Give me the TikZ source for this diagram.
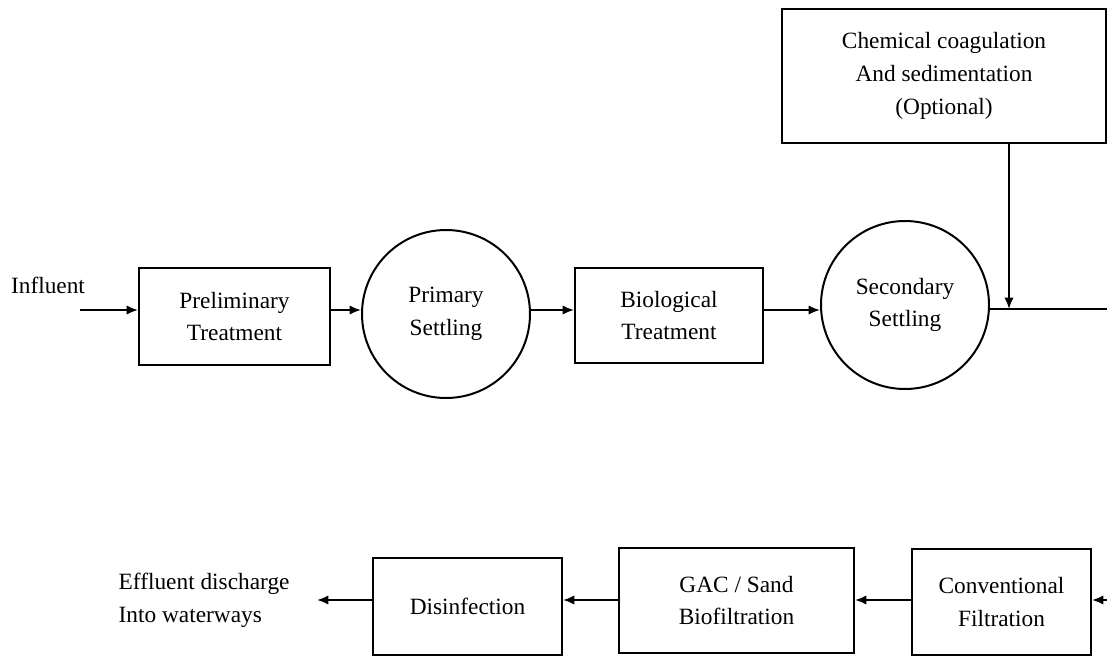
\documentclass[tikz,border=0pt]{standalone}
\usepackage{fontspec}
\setmainfont{Liberation Serif}
\usetikzlibrary{arrows.meta,calc}
\begin{document}
\begin{tikzpicture}[x=0.75pt,y=-0.75pt,
  txt/.style={font=\fontsize{17.5}{24.5}\selectfont, align=center, text=black},
  procbox/.style={txt, draw, line width=1.5pt, inner sep=0pt},
  settle/.style={txt, draw, circle, line width=1.5pt, inner sep=0pt, minimum size=126pt},
  arr/.style={line width=1.4pt, -{Latex[length=8.5pt,width=7pt]}},
  plain/.style={line width=1.4pt}]
\useasboundingbox (0,0) rectangle (1107,657);

% top row
\node[txt] (influent) at (48,285) {Influent};
\node[procbox, minimum width=143.25pt, minimum height=72.75pt] (prelim) at (234.5,316.5) {Preliminary\\Treatment};
\node[settle] (primary) at (446,314) {Primary\\Settling};
\node[procbox, minimum width=141pt, minimum height=71.25pt] (bio) at (669,315.5) {Biological\\Treatment};
\node[settle] (secondary) at (905,305) {Secondary\\Settling};
\node[procbox, minimum width=243pt, minimum height=100.5pt] (chem) at (944,76) {Chemical coagulation\\And sedimentation\\(Optional)};

\coordinate (lineA) at (0,310);
\coordinate (inStart) at (80,310);
\coordinate (jn) at (1009,309);
\coordinate (edgeR) at (1107,309);

\draw[arr] (inStart) -- (prelim.west |- lineA);
\draw[arr] (prelim.east |- lineA) -- (primary.west |- lineA);
\draw[arr] (primary.east |- lineA) -- (bio.west |- lineA);
\draw[arr] (bio.east |- lineA) -- (secondary.west |- lineA);
\draw[plain] (secondary.east |- jn) -- (edgeR);
\draw[arr] (chem.south -| jn) -- (jn);

% bottom row
\node[procbox, minimum width=134.25pt, minimum height=79.5pt] (conv) at (1001.5,602) {Conventional\\Filtration};
\node[procbox, minimum width=176.25pt, minimum height=78.75pt] (gac) at (736.5,600.5) {GAC / Sand\\Biofiltration};
\node[procbox, minimum width=141.75pt, minimum height=72.75pt] (dis) at (467.5,606.5) {Disinfection};
\node[txt, align=left, anchor=west] (effluent) at (114,600) {Effluent discharge\\Into waterways};

\coordinate (lineB) at (0,600);
\coordinate (edgeB) at (1107,600);
\coordinate (effEnd) at (317,600);

\draw[arr] (edgeB) -- (conv.east |- lineB);
\draw[arr] (conv.west |- lineB) -- (gac.east |- lineB);
\draw[arr] (gac.west |- lineB) -- (dis.east |- lineB);
\draw[arr] (dis.west |- lineB) -- (effEnd);
\end{tikzpicture}
\end{document}
